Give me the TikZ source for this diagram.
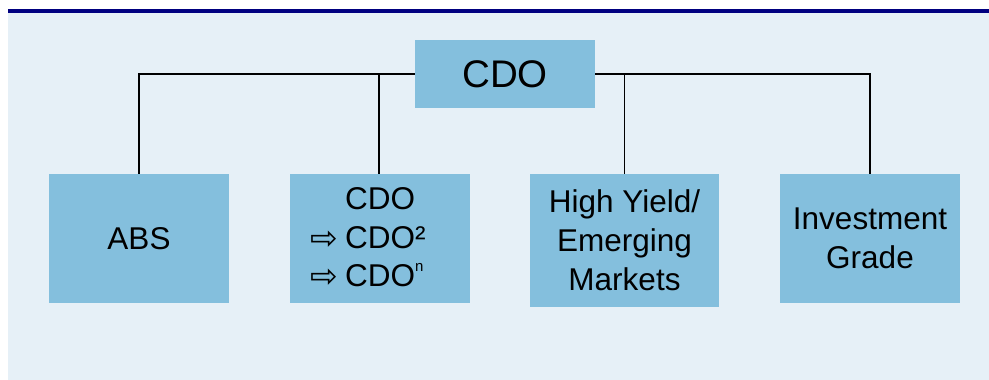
\documentclass[tikz,border=0pt]{standalone}
\usepackage{fontspec}
\setmainfont{Liberation Sans}
\newfontfamily\arrowfont{DejaVu Sans}
\definecolor{panelbg}{HTML}{E6F0F7}
\definecolor{navybar}{HTML}{000080}
\definecolor{boxfill}{HTML}{84BFDD}
\newcommand\whitearrow{\raisebox{-1pt}{\arrowfont\fontsize{33}{33}\selectfont ⇨}}
\newcommand\supn{\raisebox{16pt}{\fontsize{15}{15}\selectfont n}}
\begin{document}
\begin{tikzpicture}[x=1pt,y=-1pt,
  box/.style={rectangle, fill=boxfill, inner sep=0pt, text=black,
    font=\fontsize{31.5}{38.7}\selectfont, align=center},
  boxtext/.style={inner sep=0pt, text=black,
    font=\fontsize{31.5}{38.7}\selectfont},
  link/.style={draw=black, line width=1.1pt}]
\useasboundingbox (0,0) rectangle (989,380);
% background panel with its top rule
\fill[panelbg] (8,13) rectangle (989,380);
\fill[navybar] (8,9) rectangle (989,13);

% root
\node[box, minimum width=180pt, minimum height=68pt,
  font=\fontsize{38.5}{40}\selectfont] (top) at (505,74) {CDO};

% children
\node[box, minimum width=180pt, minimum height=128.7pt] (abs) at (139,238.3) {ABS};
\node[box, minimum width=180pt, minimum height=128.7pt] (cdos) at (380,238.3) {};
\node[boxtext, align=left] (cdolist) at ([xshift=-12pt,yshift=0.5pt]cdos.center)
  {\phantom{\whitearrow}\hspace{7pt}CDO\\ \whitearrow\hspace{7pt}CDO²\\ \whitearrow\hspace{7pt}CDO\supn};
\node[box, minimum width=189pt, minimum height=132.7pt] (hy) at (624.5,240.3)
  {High Yield/\\Emerging\\Markets};
\node[box, minimum width=180pt, minimum height=128.7pt] (ig) at (870,238.3)
  {Investment\\Grade};

% connectors
\draw[link] (top.west) -| (abs.north);
\draw[link] (top.east) -| (ig.north);
\draw[link] ([xshift=-1pt]cdos.north) |- (top.west);
\draw[link] (hy.north) |- (top.east);
\end{tikzpicture}
\end{document}
